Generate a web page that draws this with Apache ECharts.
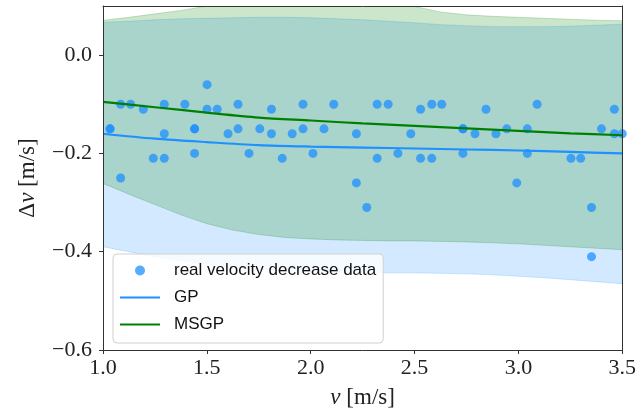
<!DOCTYPE html>
<html>
<head>
<meta charset="utf-8">
<script src="https://cdn.jsdelivr.net/npm/echarts@6/dist/echarts.min.js"></script>
<style>html,body{margin:0;padding:0;background:#fff;}#c{width:639px;height:417px;}</style>
</head>
<body>
<div id="c"></div>
<script>
// ---- data ----
const xTicks = [1.0, 1.5, 2.0, 2.5, 3.0, 3.5];
const yTicks = [-0.6, -0.4, -0.2, 0.0];

const scatterV = [1.034, 1.034, 1.085, 1.085, 1.133, 1.194, 1.242, 1.295, 1.295, 1.295,
  1.394, 1.441, 1.441, 1.441, 1.501, 1.501, 1.55, 1.602, 1.65, 1.65,
  1.703, 1.755, 1.811, 1.811, 1.863, 1.911, 1.963, 1.963, 2.011, 2.064,
  2.111, 2.22, 2.22, 2.27, 2.32, 2.32, 2.373, 2.42, 2.482, 2.529,
  2.529, 2.583, 2.583, 2.631, 2.733, 2.733, 2.733, 2.791, 2.844, 2.892,
  2.944, 2.992, 3.043, 3.043, 3.09, 3.253, 3.3, 3.352, 3.352, 3.4,
  3.462, 3.462, 3.5];
const scatterDv = [-0.15, -0.15, -0.10, -0.25, -0.10, -0.11, -0.21, -0.10, -0.16, -0.21,
  -0.10, -0.15, -0.15, -0.20, -0.06, -0.11, -0.11, -0.16, -0.10, -0.15,
  -0.20, -0.15, -0.11, -0.16, -0.21, -0.16, -0.10, -0.15, -0.20, -0.15,
  -0.10, -0.16, -0.26, -0.31, -0.10, -0.21, -0.10, -0.20, -0.16, -0.11,
  -0.21, -0.10, -0.21, -0.10, -0.15, -0.15, -0.20, -0.16, -0.11, -0.16,
  -0.15, -0.26, -0.15, -0.20, -0.10, -0.21, -0.21, -0.31, -0.41, -0.15,
  -0.11, -0.16, -0.16];

const lineV = [1.0, 1.25, 1.5, 1.75, 2.0, 2.25, 2.5, 2.75, 3.0, 3.25, 3.5];
const gpMean = [-0.160, -0.170, -0.177, -0.183, -0.186, -0.188, -0.190, -0.192, -0.194, -0.197, -0.200];
const msgpMean = [-0.095, -0.106, -0.117, -0.127, -0.133, -0.139, -0.144, -0.149, -0.154, -0.159, -0.163];

const bandV = [1.0, 1.125, 1.25, 1.375, 1.5, 1.625, 1.75, 1.875, 2.0, 2.125, 2.25,
  2.375, 2.5, 2.625, 2.75, 2.875, 3.0, 3.125, 3.25, 3.375, 3.5];
const gpUpper = [0.067, 0.069, 0.072, 0.074, 0.075, 0.076, 0.077, 0.077, 0.076, 0.074, 0.072,
  0.069, 0.066, 0.062, 0.060, 0.058, 0.058, 0.058, 0.059, 0.061, 0.063];
const gpLower = [-0.390, -0.400, -0.410, -0.418, -0.425, -0.431, -0.436, -0.439, -0.441, -0.442, -0.442,
  -0.443, -0.443, -0.444, -0.445, -0.447, -0.450, -0.453, -0.457, -0.461, -0.465];
const msgpUpper = [0.071, 0.077, 0.084, 0.091, 0.100, 0.106, 0.109, 0.111, 0.112, 0.111, 0.109,
  0.105, 0.099, 0.088, 0.082, 0.079, 0.077, 0.075, 0.073, 0.071, 0.070];
const msgpLower = [-0.261, -0.283, -0.304, -0.325, -0.343, -0.356, -0.365, -0.371, -0.374, -0.376, -0.377,
  -0.378, -0.378, -0.379, -0.380, -0.382, -0.384, -0.387, -0.390, -0.393, -0.396];

// ---- chart ----
const SERIF = "'Liberation Serif', 'DejaVu Serif', serif";
const SANS = "'Liberation Sans', 'DejaVu Sans', sans-serif";
const fmt = v => (v < 0 ? '\u2212' : '') + Math.abs(v).toFixed(1);

function band(name, upper, lower, color) {
  return {
    type: 'custom', name: name, silent: true, clip: true, z: 1,
    data: [[bandV[0], upper[0]]],
    renderItem: function (params, api) {
      const pts = [];
      for (let i = 0; i < bandV.length; i++) pts.push(api.coord([bandV[i], upper[i]]));
      for (let i = bandV.length - 1; i >= 0; i--) pts.push(api.coord([bandV[i], lower[i]]));
      return { type: 'polygon', shape: { points: pts }, style: { fill: color, stroke: color, lineWidth: 1 } };
    }
  };
}

const frameLine = { show: true, onZero: false, lineStyle: { color: '#333', width: 1 } };

const chart = echarts.init(document.getElementById('c'), null, { renderer: 'canvas' });
chart.setOption({
  animation: false,
  backgroundColor: '#fff',
  grid: { left: 103, right: 16, top: 6, bottom: 67, containLabel: false },
  xAxis: [{
    type: 'value', min: 1, max: 3.5, interval: 0.5, position: 'bottom', z: 10,
    axisLine: frameLine,
    axisTick: { show: true, length: 4, lineStyle: { color: '#333' }, customValues: xTicks },
    axisLabel: { margin: 7, fontFamily: SERIF, fontSize: 22, color: '#222', formatter: fmt, customValues: xTicks },
    splitLine: { show: false },
    name: '{i|v} [m/s]', nameLocation: 'middle', nameGap: 36,
    nameTextStyle: { fontFamily: SERIF, fontSize: 23, color: '#222',
      rich: { i: { fontFamily: SERIF, fontSize: 23, fontStyle: 'italic', color: '#222' } } }
  }, {
    type: 'value', min: 1, max: 3.5, position: 'top', z: 10,
    axisLine: frameLine, axisTick: { show: false }, axisLabel: { show: false }, splitLine: { show: false }
  }],
  yAxis: [{
    type: 'value', min: -0.6, max: 0.1, interval: 0.2, position: 'left', z: 10,
    axisLine: frameLine,
    axisTick: { show: true, length: 4, lineStyle: { color: '#333' }, customValues: yTicks },
    axisLabel: { margin: 11, fontFamily: SERIF, fontSize: 22, color: '#222', formatter: fmt, customValues: yTicks },
    splitLine: { show: false },
    name: '\u0394{i|v} [m/s]', nameLocation: 'middle', nameGap: 64, nameRotate: 90,
    nameTextStyle: { fontFamily: SERIF, fontSize: 23, color: '#222',
      rich: { i: { fontFamily: SERIF, fontSize: 23, fontStyle: 'italic', color: '#222' } } }
  }, {
    type: 'value', min: -0.6, max: 0.1, position: 'right', z: 10,
    axisLine: frameLine, axisTick: { show: false }, axisLabel: { show: false }, splitLine: { show: false }
  }],
  legend: {
    left: 113, top: 254, orient: 'vertical',
    padding: [8, 7, 10, 7], itemGap: 10, itemWidth: 40, itemHeight: 10,
    backgroundColor: 'rgba(255,255,255,0.8)', borderColor: '#d0d0d0', borderWidth: 1, borderRadius: 4,
    textStyle: { fontFamily: SANS, fontSize: 17, color: '#111', lineHeight: 16, padding: [0, 0, 0, 9] },
    data: [
      { name: 'real velocity decrease data', icon: 'circle' },
      { name: 'GP', icon: 'path://M0,0h40v2.2h-40z' },
      { name: 'MSGP', icon: 'path://M0,0h40v2.2h-40z' }
    ]
  },
  series: [
    band('GP band', gpUpper, gpLower, 'rgba(30,144,255,0.2)'),
    band('MSGP band', msgpUpper, msgpLower, 'rgba(0,128,0,0.2)'),
    {
      type: 'scatter', name: 'real velocity decrease data', z: 3,
      symbolSize: 9,
      itemStyle: { color: '#1E90FF', opacity: 0.75 },
      data: scatterV.map((v, i) => [v, scatterDv[i]])
    },
    {
      type: 'line', name: 'GP', z: 4, smooth: 0.3, showSymbol: false, symbol: 'none',
      lineStyle: { color: '#1E90FF', width: 2.2 }, itemStyle: { color: '#1E90FF' },
      data: lineV.map((v, i) => [v, gpMean[i]])
    },
    {
      type: 'line', name: 'MSGP', z: 4, smooth: 0.3, showSymbol: false, symbol: 'none',
      lineStyle: { color: '#008000', width: 2.2 }, itemStyle: { color: '#008000' },
      data: lineV.map((v, i) => [v, msgpMean[i]])
    }
  ]
});
</script>
</body>
</html>
